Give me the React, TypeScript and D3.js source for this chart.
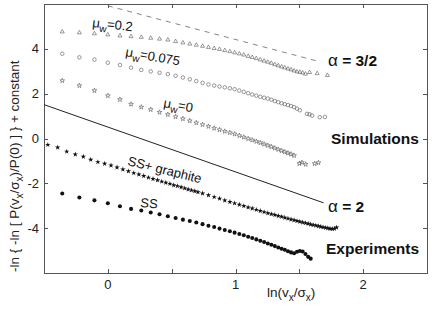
import React, { useEffect, useRef } from 'react';
import * as d3 from 'd3';

// simulations, mu_w = 0.2 (open triangles)
const triX = [-0.357, -0.223, -0.105, 0, 0.095, 0.182, 0.262, 0.336, 0.405, 0.47, 0.531, 0.588, 0.642, 0.693, 0.742, 0.788, 0.833, 0.875, 0.916, 0.956, 0.993, 1.03, 1.065, 1.099, 1.131, 1.163, 1.194, 1.224, 1.253, 1.281, 1.308, 1.335, 1.361, 1.386, 1.411, 1.435, 1.459, 1.482, 1.504, 1.526, 1.548, 1.58, 1.64, 1.72];
const triY = [4.76, 4.72, 4.68, 4.63, 4.58, 4.55, 4.52, 4.48, 4.44, 4.4, 4.33, 4.27, 4.22, 4.17, 4.12, 4.07, 4.02, 3.98, 3.93, 3.88, 3.83, 3.78, 3.73, 3.67, 3.62, 3.57, 3.51, 3.46, 3.41, 3.36, 3.3, 3.25, 3.2, 3.16, 3.11, 3.07, 3.02, 2.98, 2.96, 2.93, 2.88, 2.95, 2.9, 2.82];

// simulations, mu_w = 0.075 (open circles)
const circX = [-0.357, -0.223, -0.105, 0, 0.095, 0.182, 0.262, 0.336, 0.405, 0.47, 0.531, 0.588, 0.642, 0.693, 0.742, 0.788, 0.833, 0.875, 0.916, 0.956, 0.993, 1.03, 1.065, 1.099, 1.131, 1.163, 1.194, 1.224, 1.253, 1.281, 1.308, 1.335, 1.361, 1.386, 1.411, 1.435, 1.459, 1.482, 1.504, 1.56, 1.58, 1.6, 1.66, 1.7];
const circY = [3.78, 3.62, 3.52, 3.38, 3.28, 3.16, 3.06, 2.99, 2.93, 2.87, 2.8, 2.72, 2.64, 2.56, 2.48, 2.41, 2.36, 2.32, 2.28, 2.24, 2.2, 2.14, 2.08, 2.02, 1.96, 1.91, 1.86, 1.82, 1.78, 1.73, 1.67, 1.62, 1.57, 1.53, 1.49, 1.45, 1.4, 1.33, 1.26, 1.1, 1.08, 1.02, 0.95, 0.96];

// simulations, mu_w = 0 (open stars)
const starX = [-0.357, -0.223, -0.105, 0, 0.095, 0.182, 0.262, 0.336, 0.405, 0.47, 0.531, 0.588, 0.642, 0.693, 0.742, 0.788, 0.833, 0.875, 0.916, 0.956, 0.993, 1.03, 1.065, 1.099, 1.131, 1.163, 1.194, 1.224, 1.253, 1.281, 1.308, 1.335, 1.361, 1.386, 1.411, 1.435, 1.459, 1.5, 1.52, 1.55, 1.62, 1.65];
const starY = [2.58, 2.36, 2.14, 1.91, 1.74, 1.53, 1.4, 1.29, 1.17, 1.07, 0.97, 0.88, 0.79, 0.7, 0.62, 0.54, 0.46, 0.39, 0.32, 0.26, 0.2, 0.13, 0.06, -0.01, -0.07, -0.13, -0.19, -0.25, -0.31, -0.37, -0.43, -0.49, -0.55, -0.6, -0.65, -0.7, -0.76, -1.12, -1.07, -1.15, -1.12, -1.08];

// experiments, SS + graphite (filled stars)
const ssgX = [-0.47, -0.393, -0.322, -0.255, -0.192, -0.134, -0.078, -0.025, 0.025, 0.072, 0.118, 0.161, 0.203, 0.243, 0.281, 0.318, 0.354, 0.389, 0.422, 0.454, 0.486, 0.516, 0.545, 0.574, 0.602, 0.629, 0.655, 0.681, 0.706, 0.742, 0.788, 0.833, 0.875, 0.916, 0.956, 0.993, 1.03, 1.065, 1.099, 1.131, 1.163, 1.194, 1.224, 1.253, 1.281, 1.308, 1.335, 1.361, 1.386, 1.411, 1.435, 1.459, 1.482, 1.504, 1.526, 1.548, 1.569, 1.589, 1.609, 1.629, 1.649, 1.668, 1.686, 1.705, 1.723, 1.74, 1.758, 1.775, 1.792];
const ssgY = [-0.28, -0.4, -0.58, -0.71, -0.81, -0.94, -1.05, -1.12, -1.2, -1.29, -1.38, -1.46, -1.54, -1.6, -1.67, -1.74, -1.8, -1.86, -1.92, -1.97, -2.02, -2.08, -2.12, -2.17, -2.22, -2.27, -2.31, -2.35, -2.39, -2.45, -2.53, -2.61, -2.68, -2.76, -2.83, -2.89, -2.95, -3.01, -3.07, -3.12, -3.18, -3.23, -3.28, -3.33, -3.37, -3.41, -3.45, -3.49, -3.53, -3.57, -3.61, -3.64, -3.68, -3.71, -3.74, -3.77, -3.8, -3.83, -3.86, -3.88, -3.91, -3.93, -3.96, -3.98, -4.0, -4.02, -4.03, -4.02, -3.97];

// experiments, SS (filled dots)
const ssX = [-0.357, -0.223, -0.105, 0, 0.095, 0.182, 0.262, 0.336, 0.405, 0.47, 0.531, 0.588, 0.642, 0.693, 0.742, 0.788, 0.833, 0.875, 0.916, 0.956, 0.993, 1.03, 1.065, 1.099, 1.131, 1.163, 1.194, 1.224, 1.253, 1.281, 1.308, 1.335, 1.361, 1.386, 1.411, 1.435, 1.459, 1.482, 1.504, 1.526, 1.548, 1.569, 1.589];
const ssY = [-2.45, -2.63, -2.76, -2.89, -3.02, -3.14, -3.21, -3.3, -3.38, -3.47, -3.55, -3.62, -3.68, -3.75, -3.82, -3.89, -3.95, -4.02, -4.08, -4.14, -4.2, -4.26, -4.32, -4.38, -4.44, -4.5, -4.56, -4.62, -4.68, -4.74, -4.8, -4.86, -4.92, -4.96, -5.03, -5.08, -5.12, -5.05, -5.02, -5.04, -5.15, -5.28, -5.36];

// reference power laws
const alpha32X = [0, 1.63];
const alpha32Y = [5.92, 3.47];
const alpha2X = [-0.5, 1.69];
const alpha2Y = [1.51, -2.87];

const xTicks = [0, 0.5, 1, 1.5, 2];
const xTickLabels = ['0', '', '1', '', '2'];
const yTicks = [-4, -2, 0, 2, 4];
const yTickLabels = ['-4', '-2', '0', '2', '4'];

const FONT = '"Liberation Sans", Arial, Helvetica, sans-serif';

export default function App() {
  const svgRef = useRef<SVGSVGElement>(null);

  useEffect(() => {
    if (!svgRef.current) return;
    const svg = d3.select(svgRef.current);
    svg.selectAll('*').remove();

    const W = 436;
    const H = 309;
    const left = 44, right = 427, top = 4, bottom = 273;

    const x = d3.scaleLinear().domain([-0.5, 2.5]).range([left, right]);
    const y = d3.scaleLinear().domain([-6, 6]).range([bottom, top]);

    svg.attr('width', W).attr('height', H).style('font-family', FONT);

    svg.append('rect').attr('width', W).attr('height', H).attr('fill', '#fff');

    // frame
    svg.append('rect')
      .attr('x', left + 0.5).attr('y', top + 0.5)
      .attr('width', right - left).attr('height', bottom - top)
      .attr('fill', 'none').attr('stroke', '#555').attr('stroke-width', 1);

    const tl = 4;
    const ticks = svg.append('g').attr('stroke', '#555').attr('stroke-width', 1);
    xTicks.forEach(t => {
      const px = Math.round(x(t)) + 0.5;
      ticks.append('line').attr('x1', px).attr('x2', px).attr('y1', bottom).attr('y2', bottom - tl);
      ticks.append('line').attr('x1', px).attr('x2', px).attr('y1', top).attr('y2', top + tl);
    });
    yTicks.forEach(t => {
      const py = Math.round(y(t)) + 0.5;
      ticks.append('line').attr('x1', left).attr('x2', left + tl).attr('y1', py).attr('y2', py);
      ticks.append('line').attr('x1', right).attr('x2', right - tl).attr('y1', py).attr('y2', py);
    });

    xTicks.forEach((t, i) => {
      if (!xTickLabels[i]) return;
      svg.append('text')
        .attr('x', x(t)).attr('y', bottom + 16)
        .attr('text-anchor', 'middle')
        .style('font-size', '13px').style('fill', '#222')
        .text(xTickLabels[i]);
    });
    yTicks.forEach((t, i) => {
      svg.append('text')
        .attr('x', left - 5).attr('y', y(t))
        .attr('dy', '0.35em')
        .attr('text-anchor', 'end')
        .style('font-size', '13px').style('fill', '#222')
        .text(yTickLabels[i]);
    });

    // axis titles
    const xt = svg.append('text')
      .attr('x', 267).attr('y', 297)
      .style('font-size', '13.5px').style('fill', '#222');
    xt.append('tspan').text('ln(v');
    xt.append('tspan').attr('dy', 4).style('font-size', '10px').text('x');
    xt.append('tspan').attr('dy', -4).text('/σ');
    xt.append('tspan').attr('dy', 4).style('font-size', '10px').text('x');
    xt.append('tspan').attr('dy', -4).text(')');

    const yt = svg.append('text')
      .attr('transform', 'translate(19,272) rotate(-90)')
      .style('font-size', '13.5px').style('fill', '#222');
    yt.append('tspan').text('-ln { -ln [ P(v');
    yt.append('tspan').attr('dy', 4).style('font-size', '10px').text('x');
    yt.append('tspan').attr('dy', -4).text('/σ');
    yt.append('tspan').attr('dy', 4).style('font-size', '10px').text('x');
    yt.append('tspan').attr('dy', -4).text(')/P(0) ] } + constant');

    // reference lines
    const line = d3.line<[number, number]>().x(d => x(d[0])).y(d => y(d[1]));
    svg.append('path')
      .attr('d', line(alpha32X.map((v, i) => [v, alpha32Y[i]]) as [number, number][]))
      .attr('fill', 'none').attr('stroke', '#666').attr('stroke-width', 0.8)
      .attr('stroke-dasharray', '5,5');
    svg.append('path')
      .attr('d', line(alpha2X.map((v, i) => [v, alpha2Y[i]]) as [number, number][]))
      .attr('fill', 'none').attr('stroke', '#222').attr('stroke-width', 1);

    const drawSeries = (
      xs: number[], ys: number[], type: d3.SymbolType, size: number, filled: boolean
    ) => {
      const sym = d3.symbol().type(type).size(size);
      svg.append('g').selectAll('path')
        .data(xs.map((v, i) => [v, ys[i]]))
        .enter()
        .append('path')
        .attr('transform', d => `translate(${x(d[0])},${y(d[1])})`)
        .attr('d', sym()!)
        .attr('fill', filled ? '#111' : 'none')
        .attr('stroke', filled ? 'none' : '#555')
        .attr('stroke-width', 0.6);
    };

    drawSeries(triX, triY, d3.symbolTriangle, 7, false);
    drawSeries(circX, circY, d3.symbolCircle, 10, false);
    drawSeries(starX, starY, d3.symbolStar, 7, false);
    drawSeries(ssgX, ssgY, d3.symbolStar, 9, true);
    drawSeries(ssX, ssY, d3.symbolCircle, 13, true);

    // series labels
    const muLabel = (px: number, py: number, rot: number, val: string) => {
      const t = svg.append('text')
        .attr('transform', `translate(${px},${py}) rotate(${rot})`)
        .style('font-size', '13px').style('fill', '#111');
      t.append('tspan').text('μ');
      t.append('tspan').attr('dy', 4).style('font-size', '10px').text('w');
      t.append('tspan').attr('dy', -4).text('=' + val);
    };
    muLabel(92, 27, 6, '0.2');
    muLabel(125, 56, 10, '0.075');
    muLabel(163, 107, 10, '0');

    svg.append('text')
      .attr('transform', 'translate(127,165) rotate(14)')
      .style('font-size', '13px').style('fill', '#111')
      .text('SS+ graphite');
    svg.append('text')
      .attr('transform', 'translate(140,207) rotate(5)')
      .style('font-size', '13px').style('fill', '#111')
      .text('SS');

    const bold = (px: number, py: number, alpha: string | null, txt: string) => {
      const t = svg.append('text').attr('x', px).attr('y', py)
        .style('font-size', '15.5px').style('fill', '#111');
      if (alpha) t.append('tspan').style('font-size', '17px').text(alpha);
      t.append('tspan').style('font-weight', 'bold').text(txt);
    };
    bold(328, 66, 'α', ' = 3/2');
    bold(331, 144, null, 'Simulations');
    bold(328, 212, 'α', ' = 2');
    bold(326, 254, null, 'Experiments');
  }, []);

  return (
    <div style={{ position: 'absolute', left: 0, top: 0, width: 436, height: 309 }}>
      <svg ref={svgRef} style={{ display: 'block' }} />
    </div>
  );
}
